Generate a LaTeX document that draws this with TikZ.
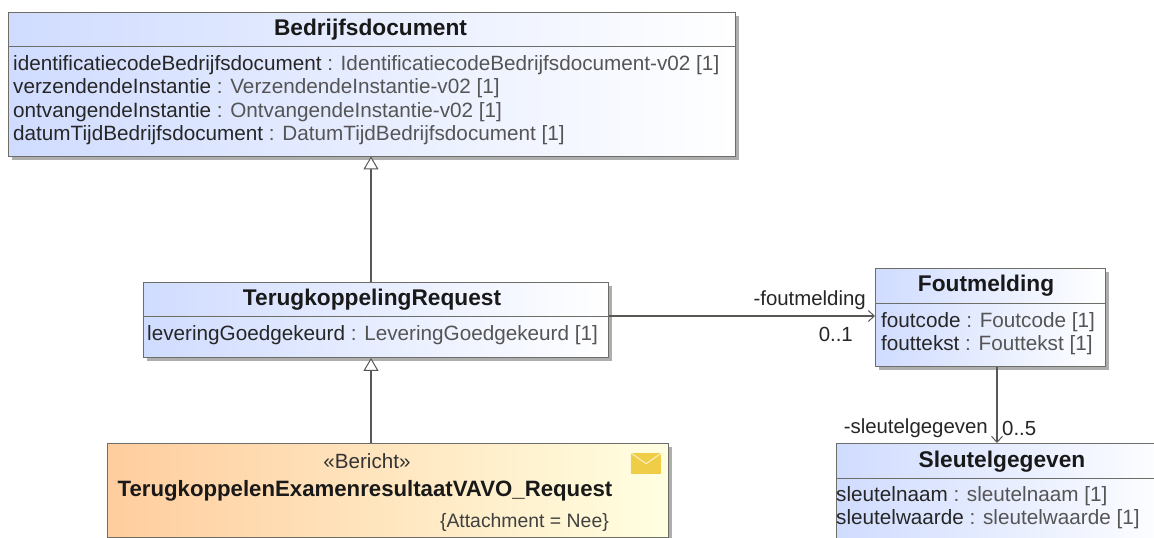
\documentclass[tikz,border=0pt]{standalone}
\usepackage{fontspec}
\setmainfont{Liberation Sans}
\usetikzlibrary{arrows.meta,positioning,shadows}

\definecolor{umlblue}{RGB}{208,220,255}
\definecolor{umlorange}{RGB}{255,205,158}
\definecolor{umlcream}{RGB}{255,255,225}
\definecolor{umledge}{RGB}{110,110,105}
\definecolor{umltype}{RGB}{85,85,85}
\definecolor{mailgold}{RGB}{240,205,70}
\newcommand{\attr}[2]{#1 {\color{umltype}: #2}}

\tikzset{
  umlbox/.style = {draw=umledge, line width=0.9pt, anchor=north west, inner sep=0pt,
    drop shadow={shadow xshift=4pt, shadow yshift=-4pt, fill=black!45, opacity=0.7}},
  classbox/.style = {umlbox, left color=umlblue, right color=white},
  msgbox/.style = {umlbox, left color=umlorange, right color=umlcream},
  classtitle/.style = {anchor=north, inner sep=0pt, font=\fontsize{22.7}{24}\selectfont\bfseries, text=black!90, text height=16pt, text depth=5pt},
  attrs/.style = {anchor=north west, inner sep=0pt, align=left, font=\fontsize{20.7}{23.4}\selectfont, text=black!85},
  endlabel/.style = {inner sep=0pt, font=\fontsize{20.4}{22}\selectfont, text=black!85},
  link/.style = {draw=umledge!80!black, line width=1.2pt},
  gen/.style = {link, -{Triangle[open, fill=white, length=13pt, width=15pt, line width=1pt]}},
  assoc/.style = {link, -{Straight Barb[length=6pt, width=11pt, line width=1pt]}}
}

\begin{document}
\begin{tikzpicture}[x=1pt, y=-1pt]
\clip (0,0) rectangle (1154,538);
\fill [white] (0,0) rectangle (1154,538);

% class boxes
\node [classbox, minimum width=727pt, minimum height=143.5pt] (bedrijf) at (8,12) {};
\node [classbox, minimum width=465pt, minimum height=75pt] (terug) at (143,282) {};
\node [msgbox, minimum width=561pt, minimum height=94pt] (bericht) at (107,443) {};
\node [classbox, minimum width=230pt, minimum height=98pt] (fout) at (875,268) {};
\node [classbox, minimum width=340pt, minimum height=130pt] (sleutel) at (836,443) {};

% titles, south side is the divider
\node [classtitle, minimum height=33pt] (bedrijftitle) at (370.5,13) {Bedrijfsdocument};
\node [classtitle, minimum height=33pt] (terugtitle) at (372,283) {TerugkoppelingRequest};
\node [classtitle, minimum height=34pt] (fouttitle) at (986,269) {Foutmelding};
\node [classtitle, minimum height=33pt] (sleuteltitle) at (1002,445) {Sleutelgegeven};
\draw [umledge] (bedrijf.west |- bedrijftitle.south) -- (bedrijf.east |- bedrijftitle.south);
\draw [umledge] (terug.west |- terugtitle.south) -- (terug.east |- terugtitle.south);
\draw [umledge] (fout.west |- fouttitle.south) -- (fout.east |- fouttitle.south);
\draw [umledge] (sleutel.west |- sleuteltitle.south) -- (sleutel.east |- sleuteltitle.south);

% attributes
\node [attrs] (bedrijfattrs) at (13,55) {\attr{identificatiecodeBedrijfsdocument}{IdentificatiecodeBedrijfsdocument-v02 [1]}\\
  \attr{verzendendeInstantie}{VerzendendeInstantie-v02 [1]}\\
  \attr{ontvangendeInstantie}{OntvangendeInstantie-v02 [1]}\\
  \attr{datumTijdBedrijfsdocument}{DatumTijdBedrijfsdocument [1]}};
\node [attrs] (terugattrs) at (147,325) {\attr{leveringGoedgekeurd}{LeveringGoedgekeurd [1]}};
\node [attrs] (foutattrs) at (881,312) {\attr{foutcode}{Foutcode [1]}\\
  \attr{fouttekst}{Fouttekst [1]}};
\node [attrs] (sleutelattrs) at (836,486) {\attr{sleutelnaam}{sleutelnaam [1]}\\
  \attr{sleutelwaarde}{sleutelwaarde [1]}};

% message box
\node [anchor=north, inner sep=0pt, font=\fontsize{20.6}{22}\selectfont, text=black!80] (stereo) at (367,453) {«Bericht»};
\node [classtitle, font=\fontsize{22.2}{24}\selectfont\bfseries] (berichttitle) at (365,480) {TerugkoppelenExamenresultaatVAVO\_Request};
\node [anchor=north east, inner sep=0pt, font=\fontsize{19.4}{21}\selectfont, text=black!75] (tagged) at (609,513) {\{Attachment = Nee\}};
\node [anchor=north west, fill=mailgold, minimum width=30pt, minimum height=21pt, inner sep=0pt] (mail) at (631,453) {};
\draw [white!70!mailgold, line width=1pt] (mail.north west) -- (mail.center) -- (mail.north east);

% connectors
\coordinate (genx) at (371,0);
\coordinate (assocy) at (0,316);
\coordinate (sleutelx) at (997,0);
\draw [gen] (terug.north -| genx) -- (bedrijf.south -| genx);
\draw [gen] (bericht.north -| genx) -- (terug.south -| genx);
\draw [assoc] (terug.east |- assocy) -- (fout.west |- assocy);
\draw [assoc] (fout.south -| sleutelx) -- (sleutel.north -| sleutelx);

% association ends
\node [endlabel, anchor=east] (foutrole) at (866,300) {-foutmelding};
\node [endlabel, anchor=east] (foutmult) at (853,334) {0..1};
\node [endlabel, anchor=east] (sleutelrole) at (988,428) {-sleutelgegeven};
\node [endlabel, anchor=west] (sleutelmult) at (1002,428) {0..5};
\end{tikzpicture}
\end{document}
